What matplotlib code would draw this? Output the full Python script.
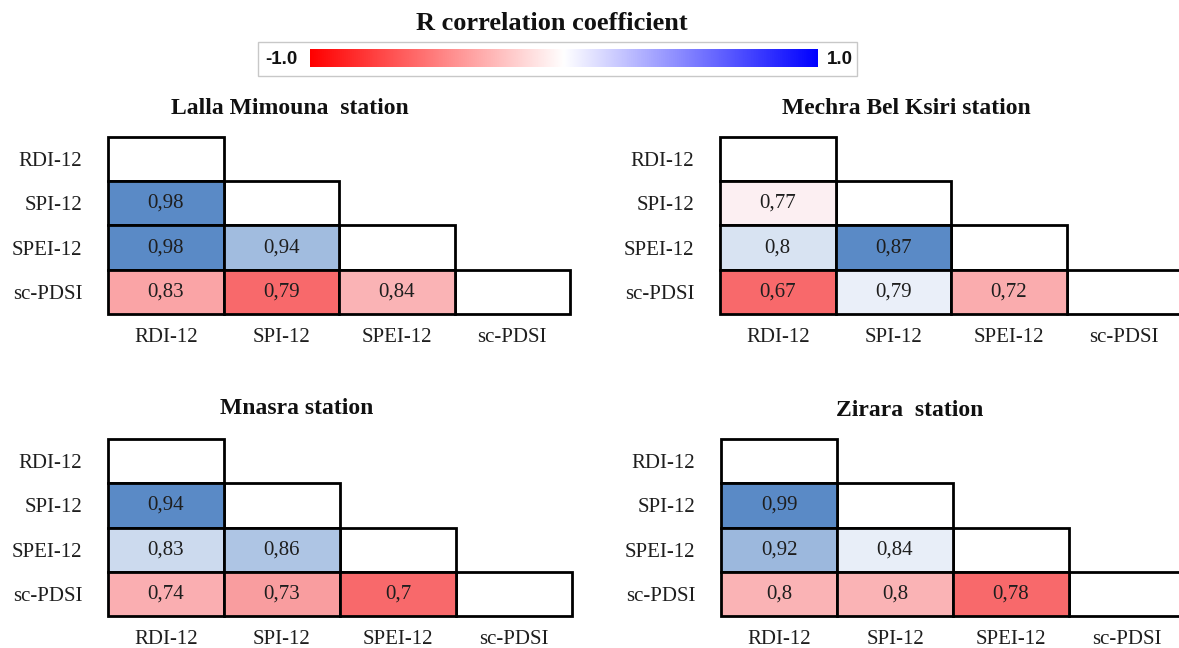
import numpy as np
import matplotlib
matplotlib.use("Agg")
import matplotlib.pyplot as plt
from matplotlib.colors import LinearSegmentedColormap, TwoSlopeNorm
from matplotlib.patches import Rectangle

# Drought indices compared in each station
indices = ["RDI-12", "SPI-12", "SPEI-12", "sc-PDSI"]

# Lower-triangle correlation values, row by row (row i holds columns 0..i-1)
lalla_mimouna = [[0.98], [0.98, 0.94], [0.83, 0.79, 0.84]]
mechra_bel_ksiri = [[0.77], [0.8, 0.87], [0.67, 0.79, 0.72]]
mnasra = [[0.94], [0.83, 0.86], [0.74, 0.73, 0.7]]
zirara = [[0.99], [0.92, 0.84], [0.8, 0.8, 0.78]]

stations = ["Lalla Mimouna  station", "Mechra Bel Ksiri station",
            "Mnasra station", "Zirara  station"]
station_values = [lalla_mimouna, mechra_bel_ksiri, mnasra, zirara]

W, H = 1179, 648
fig = plt.figure(figsize=(W / 100, H / 100), dpi=100)

serif = "Liberation Serif"
sans = "Liberation Sans"
ink = "#1e1e1e"

# Conditional-format style red-white-blue scale for the cells
cell_cmap = LinearSegmentedColormap.from_list(
    "cells", ["#F8696B", "#FCFCFF", "#5A8AC6"])


def fig_rect(x0, y0, x1, y1):
    """Pixel box (top-left origin) to figure fraction rect."""
    return [x0 / W, 1 - y1 / H, (x1 - x0) / W, (y1 - y0) / H]


# Panel boxes in pixels: left, top, cell width, cell height, title x, title y
panels = [
    (108, 137, 115.5, 44.25, 290, 108),
    (720, 137, 115.5, 44.25, 906, 108),
    (108, 439, 116.0, 44.25, 297, 408),
    (721, 439, 116.0, 44.25, 910, 410),
]

n = len(indices)
for (x0, y0, cw, ch, tx, ty), name, vals in zip(panels, stations, station_values):
    ax = fig.add_axes(fig_rect(x0, y0, x0 + cw * n, y0 + ch * n))
    ax.set_xlim(0, n)
    ax.set_ylim(n, 0)
    flat = np.array([v for row in vals for v in row])
    mid = np.percentile(flat, 50)
    norm = TwoSlopeNorm(vcenter=mid, vmin=flat.min(), vmax=flat.max())
    for i in range(n):
        # diagonal cell: empty box
        ax.add_patch(Rectangle((i, i), 1, 1, facecolor="white",
                               edgecolor="black", lw=2.0, zorder=2,
                               clip_on=False))
        if i == 0:
            continue
        for j, v in enumerate(vals[i - 1]):
            ax.add_patch(Rectangle((j, i), 1, 1, facecolor=cell_cmap(norm(v)),
                                   edgecolor="black", lw=2.0, zorder=2,
                                   clip_on=False))
            ax.text(j + 0.5, i + 0.5, f"{v:g}".replace(".", ","),
                    ha="center", va="center", fontsize=15,
                    family=serif, color=ink, zorder=3)
    for s in ax.spines.values():
        s.set_visible(False)
    ax.set_xticks(np.arange(n) + 0.5)
    ax.set_xticklabels(indices, family=serif, fontsize=15, color=ink)
    ax.set_yticks(np.arange(n) + 0.5)
    ax.set_yticklabels(indices, family=serif, fontsize=15, color=ink)
    ax.tick_params(length=0, pad=10, axis="x")
    ax.tick_params(length=0, pad=18.5, axis="y")
    ax.patch.set_visible(False)
    fig.text(tx / W, 1 - ty / H, name, ha="center", va="center",
             fontsize=17, fontweight="bold", family=serif, color="#111111")

# Colour bar legend at the top
fig.text(552 / W, 1 - 24 / H, "R correlation coefficient", ha="center",
         va="center", fontsize=19, fontweight="bold", family=serif,
         color="#111111")
box = Rectangle((258 / W, 1 - 76 / H), (857 - 258) / W, (76 - 42) / H,
                transform=fig.transFigure, facecolor="white",
                edgecolor="#c8c8c8", lw=1.0, zorder=-1)
fig.add_artist(box)
bar_cmap = LinearSegmentedColormap.from_list("bar", ["#FF0000", "#FFFFFF", "#0000FF"])
cax = fig.add_axes(fig_rect(310, 49, 818, 67))
cax.set_zorder(2)
cax.imshow(np.linspace(-1, 1, 512)[None, :], aspect="auto", cmap=bar_cmap,
           vmin=-1, vmax=1, extent=[-1, 1, 0, 1])
cax.set_axis_off()
fig.text(281 / W, 1 - 59 / H, "-1.0", ha="center", va="center",
         fontsize=13.5, fontweight="bold", family=sans, color="#111111")
fig.text(840 / W, 1 - 59 / H, "1.0", ha="center", va="center",
         fontsize=13.5, fontweight="bold", family=sans, color="#111111")

fig.savefig("out.png", dpi=100, facecolor="white")
